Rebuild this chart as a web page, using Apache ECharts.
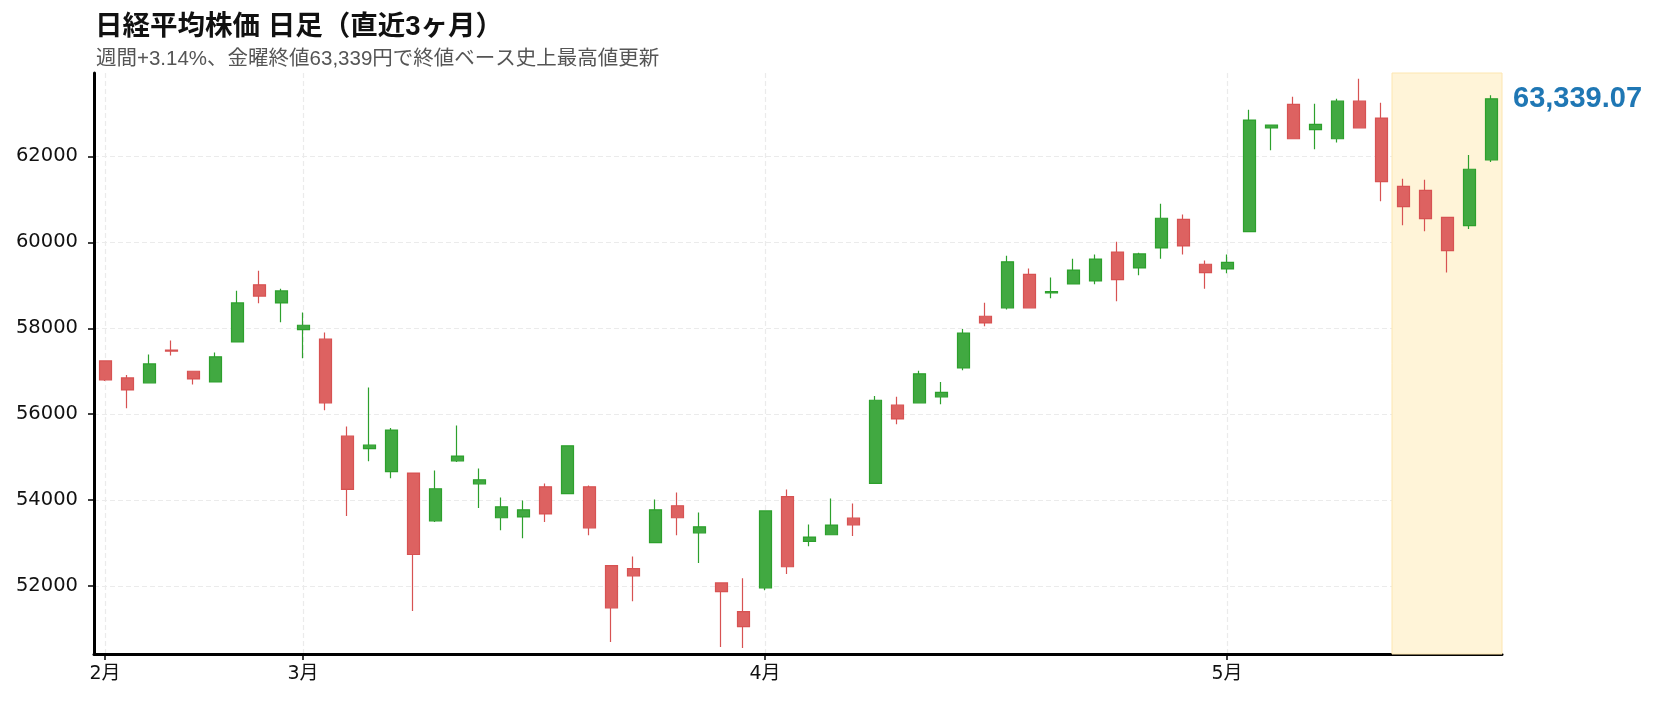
<!DOCTYPE html>
<html><head><meta charset="utf-8">
<script src="https://cdn.jsdelivr.net/npm/echarts@6/dist/echarts.min.js"></script>
<style>html,body{margin:0;padding:0;background:#fff}#c{width:1660px;height:703px}</style>
</head><body><div id="c"></div>
<script>
const dates = [
 '2026-02-16','2026-02-17','2026-02-18','2026-02-19','2026-02-20','2026-02-24','2026-02-25','2026-02-26','2026-02-27',
 '2026-03-02','2026-03-03','2026-03-04','2026-03-05','2026-03-06','2026-03-09','2026-03-10','2026-03-11','2026-03-12','2026-03-13',
 '2026-03-16','2026-03-17','2026-03-18','2026-03-19','2026-03-23','2026-03-24','2026-03-25','2026-03-26','2026-03-27','2026-03-30','2026-03-31',
 '2026-04-01','2026-04-02','2026-04-03','2026-04-06','2026-04-07','2026-04-08','2026-04-09','2026-04-10','2026-04-13','2026-04-14','2026-04-15',
 '2026-04-16','2026-04-17','2026-04-20','2026-04-21','2026-04-22','2026-04-23','2026-04-24','2026-04-27','2026-04-28','2026-04-30',
 '2026-05-01','2026-05-07','2026-05-08','2026-05-11','2026-05-12','2026-05-13','2026-05-14','2026-05-15','2026-05-18','2026-05-19','2026-05-20','2026-05-21','2026-05-22'
];
const opens = [
 57240,56845,56730,57490,57000,56750,57680,59010,58590,
 57970,57745,55490,55200,54665,54630,53520,54915,54380,53590,
 53610,54310,54150,54310,52475,52405,53010,53870,53240,52075,51405,
 51960,54080,53040,53195,53580,54390,56210,56265,56405,57075,58280,
 58475,59255,58820,59030,59100,59775,59405,59870,60535,59490,
 59380,60250,62660,63210,62620,62410,63285,62890,61300,61210,60580,60390,61920
];
const closes = [
 56800,56565,57170,57470,56820,57335,58590,58750,58870,
 58070,56265,54250,55280,55630,52735,54265,55025,54475,53845,
 53775,53680,55265,53355,51495,52240,53775,53590,53380,51870,51055,
 53750,52450,53140,53420,53425,56325,55890,56940,56510,57890,58125,
 59545,58475,58855,59355,59610,59130,59730,60560,59915,59295,
 59535,62845,62730,62410,62745,63285,62665,61410.8,60830,60550,59805,61700,63339.07
];
const lows = [
 56770,56140,56715,57365,56690,56740,57670,58580,58140,
 57300,56095,53630,54905,54510,51420,53490,54885,53815,53300,
 53115,53490,54140,53185,50700,51650,53000,53185,52535,50580,50558,
 51905,52280,52930,53190,53165,54380,55765,56260,56230,57025,58045,
 58435,58465,58700,59025,59025,58630,59235,59620,59715,58920,
 59280,60240,62140,62400,62165,62325,62660,60955,60395,60255,59300,60310,61870
];
const highs = [
 57250,56915,57390,57715,57010,57435,58875,59340,58920,
 58365,57900,55715,56620,55680,54640,54690,55735,54735,54060,
 53990,54390,55270,54340,52480,52690,54015,54180,53715,52080,52180,
 53760,54250,53435,54040,53920,56425,56405,57010,56750,57985,58595,
 59690,59390,59180,59620,59715,60015,59760,60900,60645,59575,
 59715,63085,62735,63390,63225,63340,63805,63250,61480,61455,60590,62030,63425
];
const yTicks = [52000, 54000, 56000, 58000, 60000, 62000];
const yMin = 50420, yMax = 63940;
const titleText = '日経平均株価 日足（直近3ヶ月）';
const subText = '週間+3.14%、金曜終値63,339円で終値ベース史上最高値更新';
const highlightDays = 5;

const FONT = "'Liberation Sans', 'Noto Sans CJK JP', sans-serif";
const AXFONT = "'DejaVu Sans', 'Noto Sans CJK JP', sans-serif";
const monthIdx = [];
const monthLbl = {};
dates.forEach((d, i) => {
  const m = d.slice(5, 7);
  if (i === 0 || dates[i - 1].slice(5, 7) !== m) { monthIdx.push(i); monthLbl[i] = parseInt(m, 10) + '月'; }
});
const candle = dates.map((d, i) => [i, opens[i], closes[i], lows[i], highs[i]]);
const last = dates.length - 1;
const lastClose = closes[last];

const chart = echarts.init(document.getElementById('c'), null, { renderer: 'canvas' });
chart.setOption({
  animation: false,
  backgroundColor: '#fff',
  title: [
    { text: titleText, left: 90, top: 9, textStyle: { fontFamily: FONT, fontSize: 27.5, fontWeight: 'bold', color: '#111' } },
    { text: subText, left: 91, top: 44, textStyle: { fontFamily: FONT, fontSize: 20.5, fontWeight: 'normal', color: '#555' } }
  ],
  grid: { left: 94, right: 158, top: 73, bottom: 49, containLabel: false },
  xAxis: {
    type: 'value', min: -0.5, max: dates.length - 0.5,
    axisLine: { show: true, onZero: false, lineStyle: { color: '#000', width: 3 } },
    axisTick: { show: true, customValues: monthIdx, length: 6, lineStyle: { color: '#000', width: 1.5 } },
    axisLabel: { show: true, customValues: monthIdx, formatter: v => monthLbl[v] || '', margin: 11,
      fontFamily: AXFONT, fontSize: 19, color: '#111' },
    splitLine: { show: true, lineStyle: { color: '#ebebeb', width: 1.2, type: [5, 3] } }
  },
  yAxis: {
    type: 'value', min: yMin, max: yMax, scale: true,
    axisLine: { show: true, onZero: false, lineStyle: { color: '#000', width: 3 } },
    axisTick: { show: true, customValues: yTicks, length: 6, lineStyle: { color: '#000', width: 1.5 } },
    axisLabel: { show: true, customValues: yTicks, formatter: v => String(v), margin: 16, fontFamily: AXFONT, fontSize: 19.5, color: '#111' },
    splitLine: { show: true, lineStyle: { color: '#ebebeb', width: 1.2, type: [5, 3] } }
  },
  series: [{
    type: 'candlestick',
    data: candle,
    encode: { x: 0, y: [1, 2, 3, 4] },
    barWidth: 12.5,
    itemStyle: {
      color: '#41a941', borderColor: '#2ca02c',
      color0: '#dd6261', borderColor0: '#d75252',
      borderColorDoji: '#2ca02c',
      borderWidth: 1.2
    },
    markArea: {
      silent: true,
      itemStyle: { color: '#fff4d8', borderColor: '#fde6b0', borderWidth: 1 },
      data: [[{ xAxis: dates.length - highlightDays - 0.5 }, { xAxis: dates.length - 0.5 }]]
    },
    markPoint: {
      silent: true,
      symbol: 'circle', symbolSize: 0,
      data: [{ coord: [last, lastClose], value: lastClose }],
      label: {
        show: true, position: 'right', distance: 22,
        formatter: p => Number(p.value).toLocaleString('en-US', { minimumFractionDigits: 2, maximumFractionDigits: 2 }),
        fontFamily: FONT, fontSize: 29, fontWeight: 'bold', color: '#1f77b4'
      }
    }
  }]
});
</script>
</body></html>
